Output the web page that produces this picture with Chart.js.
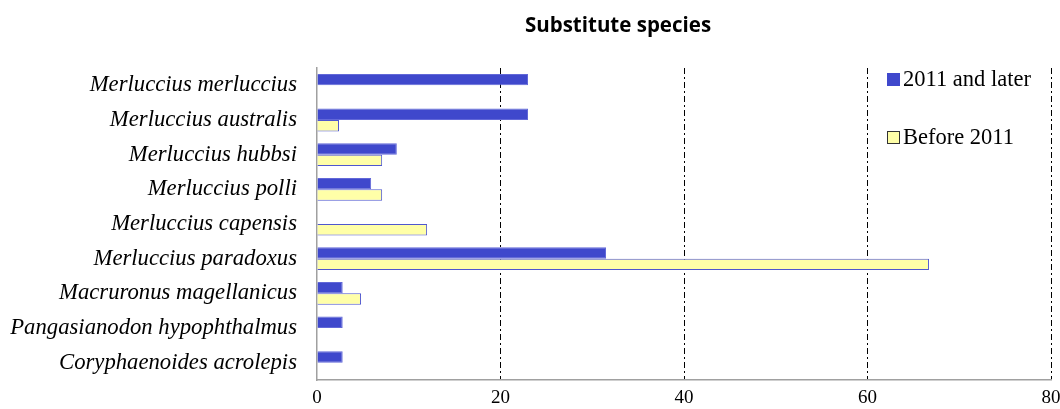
<!DOCTYPE html>
<html>
<head>
<meta charset="utf-8">
<script src="https://cdn.jsdelivr.net/npm/chart.js@4.4.1/dist/chart.umd.min.js"></script>
<style>
html,body{margin:0;padding:0;background:#fff;}
#wrap{width:1060px;height:409px;}
</style>
</head>
<body>
<div id="wrap"><canvas id="c" width="1060" height="409"></canvas></div>
<script>
const titleText = "Substitute species";
const categories = [
  "Merluccius merluccius",
  "Merluccius australis",
  "Merluccius hubbsi",
  "Merluccius polli",
  "Merluccius capensis",
  "Merluccius paradoxus",
  "Macruronus magellanicus",
  "Pangasianodon hypophthalmus",
  "Coryphaenoides acrolepis"
];
const seriesNames = ["2011 and later", "Before 2011"];
const after2011 = [23.0, 23.0, 8.7, 5.9, 0, 31.5, 2.8, 2.8, 2.8];
const before2011 = [0, 2.4, 7.1, 7.1, 12.0, 66.7, 4.8, 0, 0];
const xTicks = [0, 20, 40, 60, 80];

const SERIF = "'Liberation Serif', 'Times New Roman', serif";

const titlePlugin = {
  id: 'customTitle',
  afterDraw(chart) {
    const ctx = chart.ctx;
    ctx.save();
    ctx.font = "bold 20.5px 'Open Sans', 'Liberation Sans', sans-serif";
    ctx.fillStyle = '#000';
    ctx.textAlign = 'center';
    ctx.textBaseline = 'middle';
    ctx.fillText(titleText, 618, 26);
    ctx.restore();
  }
};

const legendPlugin = {
  id: 'customLegend',
  afterDraw(chart) {
    const ctx = chart.ctx;
    ctx.save();
    const ys = [79, 137];
    chart.data.datasets.forEach((ds, i) => {
      const y = ys[i];
      ctx.fillStyle = ds.backgroundColor;
      ctx.fillRect(887.5, y - 5.5, 12, 12);
      ctx.strokeStyle = i === 0 ? '#3f48cc' : '#333';
      ctx.lineWidth = 1;
      ctx.strokeRect(887.5, y - 5.5, 12, 12);
      ctx.fillStyle = '#000';
      ctx.font = "22.5px " + SERIF;
      ctx.textAlign = 'left';
      ctx.textBaseline = 'middle';
      ctx.fillText(ds.label, 903, y + 1);
    });
    ctx.restore();
  }
};

new Chart(document.getElementById('c'), {
  type: 'bar',
  data: {
    labels: categories,
    datasets: [
      {
        label: seriesNames[0],
        data: after2011,
        backgroundColor: '#3f48cc',
        borderColor: '#6268d8',
        borderWidth: 1,
        categoryPercentage: 0.66,
        barPercentage: 1.0
      },
      {
        label: seriesNames[1],
        data: before2011,
        backgroundColor: '#ffffa8',
        borderColor: '#4f57cf',
        borderWidth: 1,
        categoryPercentage: 0.66,
        barPercentage: 1.0
      }
    ]
  },
  options: {
    indexAxis: 'y',
    responsive: false,
    animation: false,
    layout: { padding: { left: 0, right: 9, top: 68, bottom: 0 } },
    plugins: {
      legend: { display: false },
      title: { display: false },
      tooltip: { enabled: false }
    },
    scales: {
      x: {
        min: 0,
        max: 80,
        afterBuildTicks(scale) { scale.ticks = xTicks.map(v => ({ value: v })); },
        afterFit(scale) {
          scale.height = 29;
          scale.paddingLeft = 0;
          scale.paddingRight = 0;
        },
        border: { display: true, color: '#a0a0a0', width: 1.5, dash: [6, 3, 2, 3] },
        grid: {
          drawTicks: false,
          color: ctx => ctx.tick && ctx.tick.value === 0 ? 'rgba(0,0,0,0)' : '#000',
          lineWidth: 1
        },
        ticks: {
          color: '#000',
          padding: 7,
          font: { family: SERIF, size: 19 },
          maxRotation: 0
        }
      },
      y: {
        afterFit(scale) {
          scale.width = 317;
          scale.paddingTop = 0;
          scale.paddingBottom = 0;
        },
        border: { display: true, color: '#a0a0a0', width: 1.5 },
        grid: { display: false, drawTicks: false },
        ticks: {
          color: '#000',
          padding: 20,
          font: { family: SERIF, size: 22.7, style: 'italic' }
        }
      }
    }
  },
  plugins: [titlePlugin, legendPlugin]
});
</script>
</body>
</html>
